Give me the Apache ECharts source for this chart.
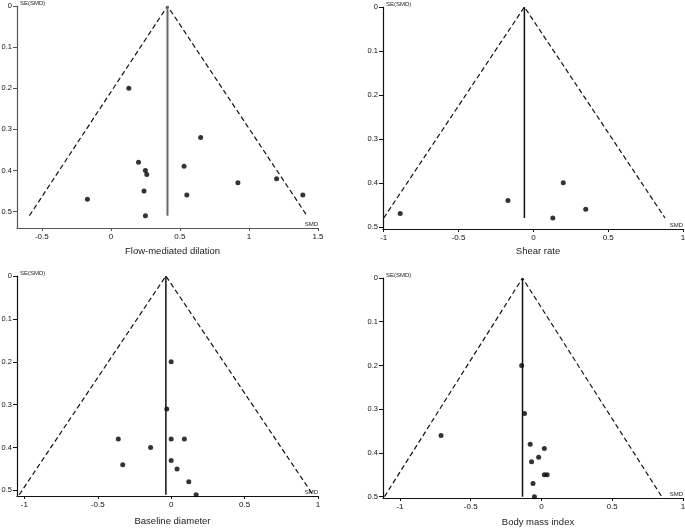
<!DOCTYPE html>
<html><head><meta charset="utf-8">
<script src="https://cdn.jsdelivr.net/npm/echarts@6/dist/echarts.min.js"></script>
<style>html,body{margin:0;padding:0;background:#fff}#c{width:685px;height:530px}</style>
</head><body><div id="c"></div>
<script>
// Panel titles
const panelTitles = ['Flow-mediated dilation', 'Shear rate', 'Baseline diameter', 'Body mass index'];

// Study points: SMD (x) and SE(SMD) (y)
const fmdSMD = [0.13, 0.65, 0.20, 0.53, 0.25, 0.26, 1.20, 0.92, 0.24, 0.55, 1.39, -0.17, 0.25];
const fmdSE  = [0.20, 0.32, 0.38, 0.39, 0.40, 0.41, 0.42, 0.43, 0.45, 0.46, 0.46, 0.47, 0.51];

const shearSMD = [-0.89, -0.17, 0.20, 0.35, 0.13];
const shearSE  = [0.47, 0.44, 0.40, 0.46, 0.48];

const bdSMD = [0.00, -0.03, -0.36, 0.00, 0.09, -0.14, 0.00, -0.33, 0.04, 0.12, 0.17];
const bdSE  = [0.20, 0.31, 0.38, 0.38, 0.38, 0.40, 0.43, 0.44, 0.45, 0.48, 0.51];

const bmiSMD = [-0.14, -0.12, -0.71, -0.08, 0.02, -0.02, -0.07, 0.02, 0.04, -0.06, -0.05];
const bmiSE  = [0.20, 0.31, 0.36, 0.38, 0.39, 0.41, 0.42, 0.45, 0.45, 0.47, 0.50];

// Pooled SMD and funnel geometry
const pooledSMD   = [0.41, -0.06, -0.036, -0.134];
const funnelSE    = [0.51, 0.48, 0.51, 0.50];
const funnelLeft  = [-0.59, -1.00, -1.035, -1.11];
const funnelRight = [1.42, 0.88, 0.965, 0.85];

// Axis ranges and ticks
const xMin = [-0.68, -1.005, -1.05, -1.12];
const xMax = [1.5, 1, 1, 1];
const yMax = [0.54, 0.505, 0.513, 0.503];
const xTicksTop1 = [-0.5, 0, 0.5, 1, 1.5];
const xTicksOther = [-1, -0.5, 0, 0.5, 1];
const yTicks = [0, 0.1, 0.2, 0.3, 0.4, 0.5];

const pointsX = [fmdSMD, shearSMD, bdSMD, bmiSMD];
const pointsY = [fmdSE, shearSE, bdSE, bmiSE];

const grids = [
  {left: 17, top: 6, width: 301, height: 222},
  {left: 383, top: 7, width: 300, height: 222},
  {left: 17, top: 276, width: 301, height: 220},
  {left: 383, top: 278, width: 300, height: 220}
].map(g => Object.assign(g, {outerBoundsMode: 'none', containLabel: false}));
const titleGap = [13, 12, 15, 14];
const axisCol = ['#555', '#111', '#111', '#111'];
const vCol = ['#666', '#111', '#111', '#111'];
const vW = [2, 1.5, 1.5, 1.5];
const FONT = 'Liberation Sans';

const xAxes = [], yAxes = [], series = [];
for (let i = 0; i < 4; i++) {
  const xt = i === 0 ? xTicksTop1 : xTicksOther;
  xAxes.push({
    gridIndex: i, type: 'value', min: xMin[i], max: xMax[i],
    splitLine: {show: false},
    axisLine: {show: true, onZero: false, lineStyle: {color: axisCol[i], width: 1.2}},
    axisTick: {show: true, length: 3, customValues: xt, lineStyle: {color: axisCol[i]}},
    axisLabel: {customValues: xt, margin: 5, fontSize: 8, color: '#111', fontFamily: FONT,
      formatter: v => String(Math.round(v * 10) / 10)},
    name: 'SMD', nameLocation: 'end', nameGap: 0,
    nameTextStyle: {fontSize: 6, color: '#222', fontFamily: FONT, align: 'right', verticalAlign: 'bottom', padding: [0, 0, 1, 0]}
  });
  yAxes.push({
    gridIndex: i, type: 'value', min: 0, max: yMax[i], inverse: true,
    splitLine: {show: false},
    axisLine: {show: true, onZero: false, lineStyle: {color: axisCol[i], width: 1.2}},
    axisTick: {show: true, length: 4, customValues: yTicks, lineStyle: {color: axisCol[i]}},
    axisLabel: {customValues: yTicks, margin: 5, fontSize: 7.5, color: '#111', fontFamily: FONT,
      formatter: v => String(Math.round(v * 10) / 10)},
    name: 'SE(SMD)', nameLocation: 'start', nameGap: 0,
    nameTextStyle: {fontSize: 6, color: '#222', fontFamily: FONT, align: 'left', verticalAlign: 'bottom', padding: [0, 0, 0, 3]}
  });
  // funnel (dashed)
  series.push({
    type: 'line', xAxisIndex: i, yAxisIndex: i, symbol: 'none', silent: true,
    data: [[funnelLeft[i], funnelSE[i]], [pooledSMD[i], 0], [funnelRight[i], funnelSE[i]]],
    lineStyle: {color: '#111', width: 1.2, type: [5, 3]}
  });
  // pooled vertical line
  series.push({
    type: 'line', xAxisIndex: i, yAxisIndex: i, symbol: 'none', silent: true,
    data: [[pooledSMD[i], 0], [pooledSMD[i], funnelSE[i]]],
    lineStyle: {color: vCol[i], width: vW[i]}
  });
  // study points
  series.push({
    type: 'scatter', xAxisIndex: i, yAxisIndex: i, symbolSize: 5, clip: false,
    itemStyle: {color: '#000'},
    data: pointsX[i].map((x, k) => [x, pointsY[i][k]])
  });
}

const titles = panelTitles.map((t, i) => ({
  text: t, left: grids[i].left + grids[i].width / 2, textAlign: 'center',
  top: grids[i].top + grids[i].height + titleGap[i],
  textStyle: {fontSize: 9.5, fontWeight: 'normal', color: '#222', fontFamily: FONT}
}));

const chart = echarts.init(document.getElementById('c'), null, {renderer: 'canvas'});
chart.setOption({
  backgroundColor: '#fff', animation: false,
  title: titles, grid: grids, xAxis: xAxes, yAxis: yAxes, series: series
});
</script></body></html>
